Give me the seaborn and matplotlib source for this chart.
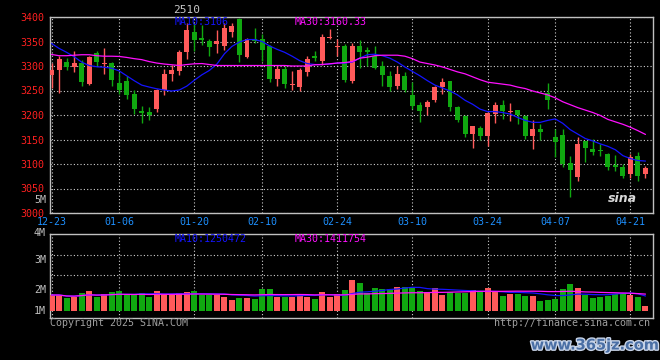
import numpy as np
import pandas as pd
import matplotlib
matplotlib.use("Agg")
import matplotlib.pyplot as plt
import matplotlib.patheffects as pe
import seaborn as sns

# ---------------- data ----------------
title = "2510"
opens = [3281.7, 3291.0, 3308.0, 3298.0, 3307.0, 3263.5, 3326.0, 3305.0, 3306.0, 3265.5,
         3269.0, 3242.0, 3208.0, 3207.0, 3213.0, 3250.6, 3284.0, 3290.5, 3327.7, 3370.0,
         3356.8, 3350.0, 3344.6, 3341.2, 3369.0, 3395.3, 3318.2, 3354.7, 3354.7, 3340.0,
         3273.6, 3294.0, 3260.8, 3257.4, 3287.0, 3319.6, 3309.4, 3356.8, 3338.5, 3340.0,
         3270.0, 3341.0, 3333.0, 3319.5, 3299.0, 3280.0, 3259.8, 3280.0, 3241.5, 3220.5,
         3217.0, 3230.7, 3257.8, 3270.0, 3216.4, 3197.5, 3161.5, 3174.0, 3158.0, 3202.0,
         3220.6, 3205.6, 3210.4, 3197.4, 3157.8, 3171.5, 3245.0, 3154.4, 3159.2, 3101.9,
         3073.9, 3147.6, 3130.5, 3129.2, 3120.3, 3097.8, 3093.0, 3079.3, 3116.9, 3079.3]
highs = [3307.0, 3319.6, 3316.0, 3330.0, 3313.0, 3321.0, 3330.0, 3336.5, 3309.0, 3286.0,
         3279.0, 3251.0, 3218.0, 3216.0, 3253.0, 3294.0, 3303.0, 3333.0, 3387.0, 3385.0,
         3383.8, 3354.7, 3373.7, 3387.0, 3387.0, 3398.0, 3356.8, 3377.0, 3365.5, 3343.0,
         3299.0, 3299.0, 3289.0, 3296.0, 3321.0, 3329.7, 3365.5, 3375.7, 3354.7, 3345.0,
         3347.0, 3352.7, 3337.8, 3341.0, 3310.7, 3289.0, 3299.0, 3287.0, 3266.6, 3227.3,
         3231.4, 3260.0, 3274.7, 3270.0, 3219.0, 3200.0, 3178.5, 3178.5, 3205.6, 3227.3,
         3231.6, 3224.7, 3210.4, 3200.0, 3190.6, 3181.7, 3265.7, 3171.5, 3171.5, 3115.5,
         3154.4, 3147.6, 3151.0, 3140.8, 3122.4, 3118.3, 3099.8, 3120.3, 3125.0, 3096.4]
lows = [3255.0, 3245.0, 3292.5, 3287.0, 3260.0, 3261.0, 3299.0, 3284.0, 3260.0, 3242.0,
        3232.0, 3203.0, 3184.0, 3190.0, 3207.0, 3240.0, 3269.0, 3282.0, 3315.0, 3330.0,
        3343.0, 3319.6, 3326.0, 3333.0, 3358.8, 3307.4, 3316.8, 3346.6, 3309.4, 3267.5,
        3260.0, 3255.0, 3250.6, 3248.6, 3280.0, 3309.4, 3302.7, 3354.7, 3319.6, 3267.5,
        3266.0, 3295.0, 3300.5, 3293.7, 3260.0, 3249.7, 3253.0, 3246.0, 3212.4, 3186.6,
        3201.0, 3227.3, 3243.0, 3209.0, 3186.6, 3154.7, 3133.0, 3150.0, 3136.4, 3184.0,
        3192.0, 3188.6, 3181.7, 3151.0, 3130.5, 3149.7, 3212.5, 3113.5, 3093.0, 3033.6,
        3065.7, 3103.2, 3118.3, 3116.9, 3088.2, 3086.2, 3071.2, 3070.5, 3064.3, 3071.8]
closes = [3292.5, 3314.0, 3298.0, 3306.0, 3267.5, 3318.0, 3308.0, 3307.0, 3272.0, 3250.6,
          3240.0, 3211.4, 3205.0, 3201.0, 3252.0, 3283.7, 3292.5, 3328.0, 3373.7, 3353.0,
          3353.4, 3337.8, 3351.4, 3377.0, 3381.8, 3322.0, 3354.7, 3352.0, 3331.7, 3273.6,
          3294.0, 3264.0, 3264.0, 3291.0, 3314.0, 3315.5, 3358.8, 3360.0, 3341.0, 3272.0,
          3341.0, 3329.0, 3327.6, 3295.8, 3281.5, 3257.8, 3283.6, 3251.0, 3219.0, 3209.0,
          3227.0, 3257.8, 3268.0, 3217.0, 3190.7, 3161.5, 3178.5, 3157.0, 3204.0, 3220.5,
          3209.0, 3209.0, 3200.0, 3157.8, 3171.5, 3166.0, 3231.6, 3145.6, 3099.8, 3088.2,
          3140.8, 3131.9, 3125.0, 3125.8, 3093.0, 3093.0, 3076.0, 3113.5, 3074.6, 3091.0]
volumes_m = [1.25, 1.25, 1.02, 1.12, 1.38, 1.56, 1.12, 1.33, 1.48, 1.56,
             1.22, 1.22, 1.41, 1.12, 1.56, 1.25, 1.25, 1.41, 1.48, 1.56,
             1.22, 1.22, 1.22, 1.12, 0.86, 1.02, 1.02, 0.94, 1.72, 1.72,
             1.12, 1.12, 1.12, 1.33, 1.12, 0.94, 1.48, 1.12, 1.33, 1.64,
             2.42, 2.19, 1.38, 1.80, 1.72, 1.72, 1.875, 1.875, 1.875, 1.56,
             1.48, 1.80, 1.25, 1.48, 1.41, 1.41, 1.64, 1.48, 1.80, 1.56,
             1.17, 1.33, 1.33, 1.17, 1.17, 0.78, 0.86, 0.94, 1.72, 2.11,
             1.80, 1.25, 1.02, 1.09, 1.17, 1.33, 1.33, 1.25, 1.09, 0.39]
ma10 = [3346, 3336, 3328, 3319, 3308, 3301, 3298.5, 3297.5, 3295.5, 3290,
        3280, 3270, 3261, 3257, 3253.5, 3251, 3249, 3251, 3259, 3271,
        3282, 3291, 3304, 3325, 3340, 3349, 3354, 3354, 3350, 3341,
        3334, 3328, 3320, 3311, 3305, 3303, 3303, 3304, 3306, 3306,
        3308, 3316, 3323, 3324, 3321, 3316, 3308, 3298, 3289, 3280,
        3270, 3261, 3255, 3249, 3241, 3230, 3222, 3212, 3207, 3207,
        3205, 3202, 3195, 3189, 3185, 3185, 3189, 3192, 3183, 3170,
        3161, 3152, 3147, 3141, 3136, 3129, 3117, 3111, 3107, 3106]
ma30 = [3323.6, 3321, 3321, 3322, 3323, 3323, 3321, 3320, 3320, 3319.5,
        3317.5, 3315, 3313, 3309, 3306, 3304, 3302.5, 3301, 3303, 3304.5,
        3305, 3303, 3301, 3301, 3301, 3301, 3301, 3301, 3301, 3301,
        3301, 3301, 3300, 3300, 3300, 3302.5, 3303, 3304.5, 3306, 3307,
        3309, 3316, 3318, 3321, 3322, 3322, 3322, 3320, 3315, 3308,
        3305, 3302, 3298, 3293, 3288, 3284, 3278, 3272, 3267, 3265,
        3263, 3261, 3257, 3254, 3249, 3245, 3241, 3235, 3227, 3221,
        3215, 3210, 3205, 3199, 3191, 3186, 3181, 3175, 3168, 3160.33]
ma10_label = "MA10:3106"
ma30_label = "MA30:3160.33"
vol_ma10_label = "MA10:1250472"
vol_ma30_label = "MA30:1411754"
date_tick_idx = [0, 9, 19, 28, 38, 48, 58, 67, 77]
date_tick_labels = ["12-23", "01-06", "01-20", "02-10", "02-24", "03-10", "03-24", "04-07", "04-21"]
price_ticks = [3000, 3050, 3100, 3150, 3200, 3250, 3300, 3350, 3400]
vol_tick_labels = ["5M", "4M", "3M", "2M", "1M"]

# ---------------- style ----------------
sns.set_theme(style="dark")
plt.rcParams["font.family"] = ["DejaVu Sans Mono", "DejaVu Sans"]
plt.rcParams["axes.facecolor"] = "black"
plt.rcParams["figure.facecolor"] = "black"

RED = "#ff5a5a"
GREEN = "#10a810"
BLUE = "#1414ff"
MAG = "#ff10ff"
GRID = "#d0d0d0"
SPINE = "#c0c0c0"
FS = 7.2

W, H = 660, 360
fig = plt.figure(figsize=(6.6, 3.6), dpi=100, facecolor="black")


def fax(l, t, r, b):
    return [l / W, 1 - b / H, (r - l) / W, (b - t) / H]


ax = fig.add_axes(fax(50, 17, 653, 213))
axv = fig.add_axes(fax(50, 234, 653, 318))

o = np.array(opens)
c = np.array(closes)
hi = np.array(highs)
lo = np.array(lows)
idx = np.arange(len(o))
up = c >= o
cols = np.where(up, RED, GREEN)

# candles
ax.vlines(idx, lo, hi, colors=cols, linewidth=1.0, zorder=3)
ax.bar(idx, np.maximum(np.abs(c - o), 1.2), bottom=np.minimum(o, c), width=0.66,
       color=cols, linewidth=0, zorder=4)
sns.lineplot(x=idx, y=ma10, ax=ax, color=BLUE, linewidth=0.9, zorder=5, legend=False)
sns.lineplot(x=idx, y=ma30, ax=ax, color=MAG, linewidth=0.9, zorder=5, legend=False)

ax.set_xlim(-0.2, 80.0)
ax.set_ylim(3000, 3400)
ax.set_yticks(price_ticks)
ax.set_yticklabels([str(t) for t in price_ticks])
ax.set_xticks(date_tick_idx)
ax.set_xticklabels(date_tick_labels)
ax.tick_params(axis="y", colors="#ff2020", labelsize=FS, length=0, pad=4)
ax.tick_params(axis="x", colors="#1e90ff", labelsize=FS, length=0, pad=3)
ax.grid(True, color=GRID, linestyle=(0, (1, 2)), linewidth=0.8)
ax.set_xlabel("")
ax.set_ylabel("")

# volume
v = np.array(volumes_m)
axv.bar(idx, v, width=0.8, color=cols, linewidth=0, zorder=3)
vs = pd.Series(v)
sns.lineplot(x=idx, y=vs.rolling(10, min_periods=1).mean().values, ax=axv, color=BLUE,
             linewidth=0.9, zorder=5, legend=False)
sns.lineplot(x=idx, y=vs.rolling(30, min_periods=1).mean().values, ax=axv, color=MAG,
             linewidth=0.9, zorder=5, legend=False)
axv.set_xlim(-0.2, 80.0)
axv.set_ylim(-0.547, 6.016)
axv.set_xticks(date_tick_idx)
axv.set_xticklabels([])
axv.set_yticks([2.81, 4.375])
axv.set_yticklabels([])
axv.tick_params(length=0)
axv.grid(True, color=GRID, linestyle=(0, (1, 2)), linewidth=0.8)
axv.set_xlabel("")
axv.set_ylabel("")

for a in (ax, axv):
    a.set_facecolor("black")
    a.set_axisbelow(True)
    for s in a.spines.values():
        s.set_visible(True)
        s.set_color(SPINE)
        s.set_linewidth(1.0)

# texts
fig.text(187 / W, 1 - 10 / H, title, ha="center", va="center", color="#c8c8c8", fontsize=8)
fig.text(175 / W, 1 - 22 / H, ma10_label, ha="left", va="center", color=BLUE, fontsize=FS)
fig.text(295 / W, 1 - 22 / H, ma30_label, ha="left", va="center", color=MAG, fontsize=FS)
fig.text(175 / W, 1 - 238.5 / H, vol_ma10_label, ha="left", va="center", color=BLUE, fontsize=FS)
fig.text(295 / W, 1 - 238.5 / H, vol_ma30_label, ha="left", va="center", color=MAG, fontsize=FS)
for lab, yy in zip(vol_tick_labels, [200, 232.5, 260, 290, 311]):
    fig.text(46 / W, 1 - yy / H, lab, ha="right", va="center", color="#c0c0c0", fontsize=FS)
fig.text(50 / W, 1 - 323.5 / H, "Copyright 2025 SINA.COM", ha="left", va="center",
         color="#a0a0a0", fontsize=FS)
fig.text(650 / W, 1 - 323.5 / H, "http://finance.sina.com.cn", ha="right", va="center",
         color="#a0a0a0", fontsize=FS)
fig.text(622 / W, 1 - 198 / H, "sina", ha="center", va="center", color="#d8d8d8",
         fontsize=9, fontweight="bold", fontstyle="italic", family=["DejaVu Sans"])
fig.text(595 / W, 1 - 345 / H, "www.365jz.com", ha="center", va="center", color="#4a6fa5",
         fontsize=10.5, fontweight="bold", family=["DejaVu Sans"],
         path_effects=[pe.withStroke(linewidth=2, foreground="#c8d4e8")])

fig.savefig("out.png", dpi=100, facecolor="black")
